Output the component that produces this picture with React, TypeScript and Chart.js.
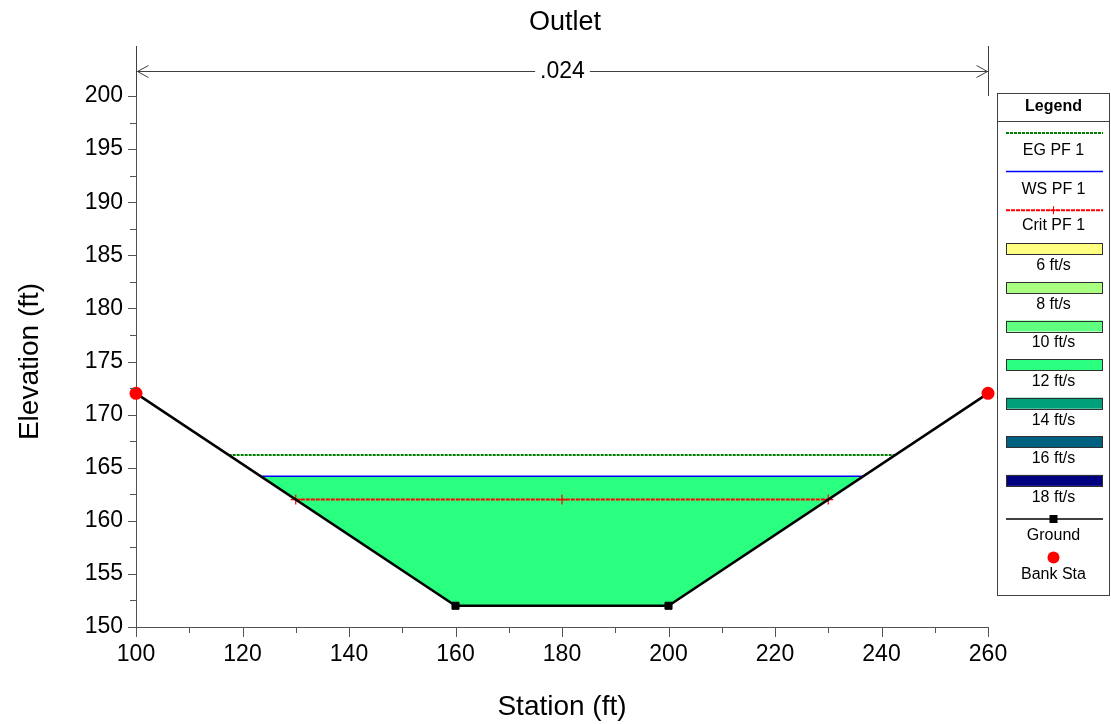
import React, { useEffect, useRef } from 'react';
import { Chart, registerables } from 'chart.js';

Chart.register(...registerables);

// ---- data ----
const chartTitle = 'Outlet';
const xAxisTitle = 'Station (ft)';
const yAxisTitle = 'Elevation (ft)';

const groundStation = [100, 160, 200, 260];
const groundElev = [172, 152, 152, 172];
const bankStation = [100, 260];
const bankElev = [172, 172];
const egStation = [117.4, 242.6];
const egElev = [166.2, 166.2];
const wsStation = [123.4, 236.6];
const wsElev = [164.2, 164.2];
const critStation = [130, 180, 230];
const critElev = [162.0, 162.0, 162.0];
const waterStation = [123.4, 160, 200, 236.6];
const waterElev = [164.2, 152, 152, 164.2];

const xMin = 100, xMax = 260, xMajor = 20, xMinor = 10;
const yMin = 150, yMax = 200, yMajor = 5, yMinor = 2.5;

const nValueLabel = '.024';
const nValueStations = [100, 260];

const lineLegendLabels = ['EG PF 1', 'WS PF 1', 'Crit PF 1'];
const speedLabels = ['6 ft/s', '8 ft/s', '10 ft/s', '12 ft/s', '14 ft/s', '16 ft/s', '18 ft/s'];
const speedColors = ['#FFFF80', '#A8FF80', '#60FF80', '#2BFF80', '#00A07A', '#006080', '#000080'];
const pointLegendLabels = ['Ground', 'Bank Sta'];

const EG_COLOR = '#008000';
const WS_COLOR = '#0000FF';
const CRIT_COLOR = '#FF0000';
const WATER_COLOR = '#2BFF80';
const FONT = '"Liberation Sans", Arial, sans-serif';

const pts = (xs: number[], ys: number[]) => xs.map((x, i) => ({ x, y: ys[i] }));

const hecPlugin = {
  id: 'hecras',
  beforeDatasetsDraw(chart: any) {
    const { ctx, scales } = chart;
    const x = scales.x, y = scales.y;
    ctx.save();
    ctx.beginPath();
    waterStation.forEach((s, i) => {
      const px = x.getPixelForValue(s);
      const py = y.getPixelForValue(waterElev[i]);
      if (i === 0) ctx.moveTo(px, py); else ctx.lineTo(px, py);
    });
    ctx.closePath();
    ctx.fillStyle = WATER_COLOR;
    ctx.fill();
    ctx.restore();
  },
  afterDraw(chart: any) {
    const { ctx, scales, chartArea } = chart;
    const x = scales.x, y = scales.y;
    ctx.save();
    // minor/major ticks
    ctx.strokeStyle = '#555555';
    ctx.lineWidth = 1;
    for (let v = yMin; v <= yMax + 1e-6; v += yMinor) {
      const py = Math.round(y.getPixelForValue(v)) + 0.5;
      const len = Math.abs(v / yMajor - Math.round(v / yMajor)) < 1e-6 ? 8 : 6;
      ctx.beginPath();
      ctx.moveTo(chartArea.left - len, py);
      ctx.lineTo(chartArea.left, py);
      ctx.stroke();
    }
    for (let v = xMin; v <= xMax + 1e-6; v += xMinor) {
      const px = Math.round(x.getPixelForValue(v)) + 0.5;
      const len = Math.abs(v / xMajor - Math.round(v / xMajor)) < 1e-6 ? 10 : 6;
      ctx.beginPath();
      ctx.moveTo(px, chartArea.bottom);
      ctx.lineTo(px, chartArea.bottom + len);
      ctx.stroke();
    }

    // title
    ctx.fillStyle = '#000';
    ctx.font = `27px ${FONT}`;
    ctx.textAlign = 'center';
    ctx.textBaseline = 'middle';
    ctx.fillText(chartTitle, 565, 23);

    // Manning's n annotation
    const ax1 = Math.round(x.getPixelForValue(nValueStations[0])) + 0.5;
    const ax2 = Math.round(x.getPixelForValue(nValueStations[1])) + 0.5;
    const ay = 71.5;
    ctx.strokeStyle = '#404040';
    ctx.beginPath();
    ctx.moveTo(ax1, 46); ctx.lineTo(ax1, chartArea.top);
    ctx.moveTo(ax2, 46); ctx.lineTo(ax2, chartArea.top);
    ctx.stroke();
    ctx.font = `23px ${FONT}`;
    const cx = (ax1 + ax2) / 2;
    const tw = ctx.measureText(nValueLabel).width;
    ctx.beginPath();
    ctx.moveTo(ax1, ay); ctx.lineTo(cx - tw / 2 - 5, ay);
    ctx.moveTo(cx + tw / 2 + 5, ay); ctx.lineTo(ax2, ay);
    // arrowheads
    ctx.moveTo(ax1 + 12, ay - 6); ctx.lineTo(ax1 + 1, ay); ctx.lineTo(ax1 + 12, ay + 6);
    ctx.moveTo(ax2 - 12, ay - 6); ctx.lineTo(ax2 - 1, ay); ctx.lineTo(ax2 - 12, ay + 6);
    ctx.stroke();
    ctx.fillStyle = '#000';
    ctx.fillText(nValueLabel, cx, ay);

    // legend box
    const L = 997.5, R = 1109.5, T = 93.5, B = 595.5;
    const mid = (L + R) / 2;
    const sx1 = 1006, sx2 = 1103;
    ctx.fillStyle = '#fff';
    ctx.fillRect(L, T, R - L, B - T);
    ctx.strokeStyle = '#404040';
    ctx.lineWidth = 1;
    ctx.strokeRect(L, T, R - L, B - T);
    ctx.beginPath();
    ctx.moveTo(L, 121.5); ctx.lineTo(R, 121.5);
    ctx.stroke();
    ctx.fillStyle = '#000';
    ctx.font = `bold 16px ${FONT}`;
    ctx.fillText('Legend', mid, 107);

    const rowY = (i: number) => 133 + i * 38.6;
    const textY = (i: number) => rowY(i) + 17.5;
    ctx.font = `16px ${FONT}`;
    let row = 0;
    // EG
    ctx.save();
    ctx.strokeStyle = EG_COLOR; ctx.lineWidth = 2; ctx.setLineDash([3, 1]);
    ctx.beginPath(); ctx.moveTo(sx1, rowY(row)); ctx.lineTo(sx2, rowY(row)); ctx.stroke();
    ctx.restore();
    ctx.fillText(lineLegendLabels[0], mid, textY(row)); row++;
    // WS
    ctx.save();
    ctx.strokeStyle = WS_COLOR; ctx.lineWidth = 1.5;
    ctx.beginPath(); ctx.moveTo(sx1, rowY(row)); ctx.lineTo(sx2, rowY(row)); ctx.stroke();
    ctx.restore();
    ctx.fillText(lineLegendLabels[1], mid, textY(row)); row++;
    // Crit
    ctx.save();
    ctx.strokeStyle = CRIT_COLOR; ctx.lineWidth = 2; ctx.setLineDash([4, 1]);
    ctx.beginPath(); ctx.moveTo(sx1, rowY(row)); ctx.lineTo(sx2, rowY(row)); ctx.stroke();
    ctx.setLineDash([]); ctx.lineWidth = 1;
    ctx.beginPath();
    ctx.moveTo(mid, rowY(row) - 4); ctx.lineTo(mid, rowY(row) + 4);
    ctx.moveTo(mid - 4, rowY(row)); ctx.lineTo(mid + 4, rowY(row));
    ctx.stroke();
    ctx.restore();
    ctx.fillText(lineLegendLabels[2], mid, textY(row) - 2); row++;
    // speeds
    speedLabels.forEach((lab, i) => {
      const yy = rowY(row);
      ctx.fillStyle = speedColors[i];
      ctx.fillRect(sx1, yy - 5.5, sx2 - sx1, 11);
      ctx.strokeStyle = '#303030';
      ctx.strokeRect(sx1 + 0.5, Math.round(yy - 5.5) + 0.5, sx2 - sx1 - 1, 11);
      ctx.fillStyle = '#000';
      ctx.fillText(lab, mid, textY(row) - 0.5);
      row++;
    });
    // Ground
    {
      const yy = rowY(row);
      ctx.strokeStyle = '#000'; ctx.lineWidth = 1.5;
      ctx.beginPath(); ctx.moveTo(sx1, yy); ctx.lineTo(sx2, yy); ctx.stroke();
      ctx.fillStyle = '#000';
      ctx.fillRect(mid - 4, yy - 4, 8, 8);
      ctx.fillText(pointLegendLabels[0], mid, textY(row) - 1);
      row++;
    }
    // Bank Sta
    {
      const yy = rowY(row);
      ctx.fillStyle = '#FF0000';
      ctx.beginPath(); ctx.arc(mid, yy, 6, 0, Math.PI * 2); ctx.fill();
      ctx.fillStyle = '#000';
      ctx.fillText(pointLegendLabels[1], mid, textY(row) - 0.5);
    }
    ctx.restore();
  },
};

export default function App() {
  const canvasRef = useRef<HTMLCanvasElement | null>(null);

  useEffect(() => {
    document.body.style.margin = '0';
    const canvas = canvasRef.current;
    if (!canvas) return;
    const chart = new Chart(canvas, {
      type: 'scatter',
      data: {
        datasets: [
          {
            label: 'Bank Sta',
            data: pts(bankStation, bankElev),
            showLine: false,
            clip: false,
            pointRadius: 6.5,
            pointBackgroundColor: '#FF0000',
            pointBorderColor: '#FF0000',
            pointBorderWidth: 0,
            order: 0,
          },
          {
            label: 'Ground',
            data: pts(groundStation, groundElev),
            showLine: true,
            clip: false,
            borderColor: '#000000',
            borderWidth: 2.5,
            pointStyle: 'rect',
            pointRadius: [0, 5, 5, 0],
            pointBackgroundColor: '#000000',
            pointBorderColor: '#000000',
            pointBorderWidth: 1,
            order: 1,
          },
          {
            label: 'Crit PF 1',
            data: pts(critStation, critElev),
            showLine: true,
            borderColor: CRIT_COLOR,
            borderWidth: 2,
            borderDash: [4, 1],
            pointStyle: 'cross',
            pointRadius: 5,
            pointBorderColor: CRIT_COLOR,
            pointBorderWidth: 1.2,
            order: 2,
          },
          {
            label: 'WS PF 1',
            data: pts(wsStation, wsElev),
            showLine: true,
            borderColor: WS_COLOR,
            borderWidth: 1.5,
            pointRadius: 0,
            order: 3,
          },
          {
            label: 'EG PF 1',
            data: pts(egStation, egElev),
            showLine: true,
            borderColor: EG_COLOR,
            borderWidth: 2,
            borderDash: [3, 1],
            pointRadius: 0,
            order: 4,
          },
        ],
      },
      options: {
        responsive: false,
        animation: false,
        events: [],
        layout: { padding: { left: 0, top: 96, right: 123, bottom: 0 } },
        plugins: {
          legend: { display: false },
          tooltip: { enabled: false },
          title: { display: false },
        },
        scales: {
          x: {
            type: 'linear',
            min: xMin,
            max: xMax,
            afterFit: (s: any) => { s.height = 97; },
            ticks: {
              stepSize: xMajor,
              padding: 14,
              color: '#000',
              font: { family: FONT, size: 23 },
              maxRotation: 0,
            },
            grid: { display: true, drawOnChartArea: false, drawTicks: false },
            border: { display: true, color: '#505050', width: 1 },
            title: {
              display: true,
              text: xAxisTitle,
              color: '#000',
              font: { family: FONT, size: 28 },
              padding: { top: 0, bottom: 0 },
            },
          },
          y: {
            type: 'linear',
            min: yMin,
            max: yMax,
            afterFit: (s: any) => { s.width = 136; },
            ticks: {
              stepSize: yMajor,
              padding: 13,
              color: '#000',
              font: { family: FONT, size: 23 },
            },
            grid: { display: true, drawOnChartArea: false, drawTicks: false },
            border: { display: true, color: '#505050', width: 1 },
            title: {
              display: true,
              text: yAxisTitle,
              color: '#000',
              font: { family: FONT, size: 28 },
              padding: { top: 13, bottom: 0 },
            },
          },
        },
      },
      plugins: [hecPlugin],
    } as any);
    return () => chart.destroy();
  }, []);

  return (
    <div style={{ width: 1111, height: 724 }}>
      <canvas ref={canvasRef} width={1111} height={724} />
    </div>
  );
}
